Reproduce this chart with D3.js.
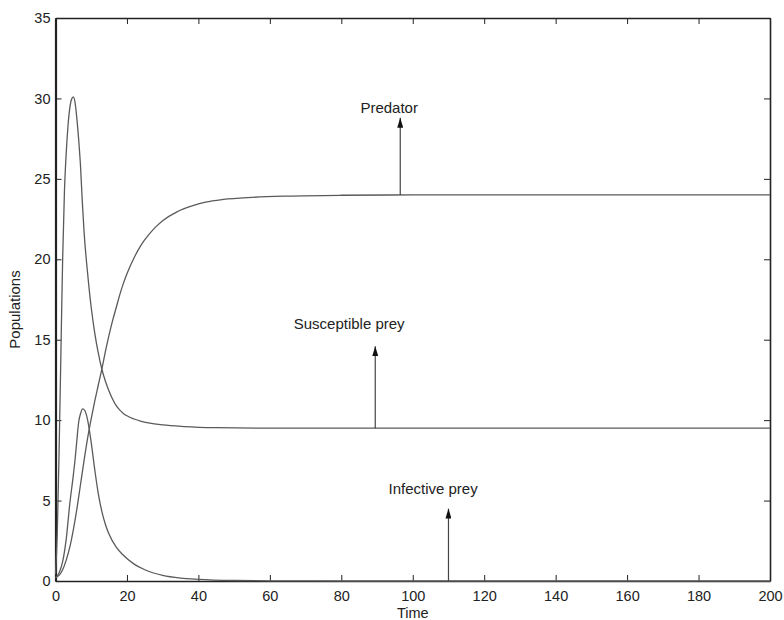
<!DOCTYPE html>
<html>
<head>
<meta charset="utf-8">
<script src="https://cdn.jsdelivr.net/npm/d3@7"></script>
<style>
  html, body { margin: 0; padding: 0; background: #fff; }
  svg { display: block; font-family: "Liberation Sans", Arial, Helvetica, sans-serif; }
</style>
</head>
<body>
<svg id="chart" width="784" height="620"></svg>
<script>
// ---- data ----
const susceptibleT = [0, 0.5, 1, 1.5, 2, 2.5, 3, 3.5, 4, 4.5, 5, 5.5, 6, 6.5, 7, 7.5, 8, 9, 10, 11, 12, 13, 14, 15, 16, 17, 18, 19, 20, 22, 24, 26, 30, 36, 45, 60, 80, 100, 130, 160, 200];
const susceptibleV = [0.4, 3, 8, 14, 20, 24.2, 26.6, 28.3, 29.4, 29.95, 30.1, 29.7, 28.7, 27.4, 25.8, 23.6, 21.7, 19.1, 17.0, 15.4, 14.15, 13.15, 12.4, 11.8, 11.3, 10.9, 10.62, 10.42, 10.27, 10.07, 9.93, 9.83, 9.7, 9.6, 9.53, 9.5, 9.5, 9.5, 9.5, 9.5, 9.5];

const predatorT = [0, 1, 2, 3, 4, 5, 6, 7, 8, 9, 10, 11, 12, 13, 14, 15, 16, 17, 18, 19, 20, 22, 24, 26, 28, 30, 34, 38, 42, 47, 55, 65, 80, 100, 150, 200];
const predatorV = [0.2, 0.35, 0.7, 1.3, 2.1, 3.2, 4.5, 6.0, 7.5, 8.9, 10.1, 11.2, 12.2, 13.2, 14.3, 15.3, 16.2, 17.0, 17.8, 18.5, 19.1, 20.1, 20.9, 21.5, 22.0, 22.4, 22.95, 23.3, 23.55, 23.72, 23.85, 23.93, 23.98, 24.0, 24.0, 24.0];

const infectiveT = [0, 1, 2, 3, 4, 5, 5.5, 6, 6.5, 7, 7.6, 8.2, 9, 10, 11, 12, 13, 14, 15, 17, 19, 22, 25, 30, 35, 40, 50, 60, 80, 120, 200];
const infectiveV = [0.2, 0.5, 1.2, 2.6, 4.8, 6.6, 7.6, 8.8, 9.9, 10.4, 10.7, 10.6, 10.0, 8.6, 6.9, 5.4, 4.3, 3.5, 2.9, 2.1, 1.6, 1.05, 0.7, 0.35, 0.18, 0.1, 0.03, 0.01, 0, 0, 0];

const xTicks = [0, 20, 40, 60, 80, 100, 120, 140, 160, 180, 200];
const yTicks = [0, 5, 10, 15, 20, 25, 30, 35];

const labelNames = ["Predator", "Susceptible prey", "Infective prey"];
const arrowT = [96.5, 89.5, 110];
const arrowFrom = [24.0, 9.5, 0];
const arrowTo = [28.8, 14.6, 4.5];
const labelT = [93.4, 82.2, 105.7];
const labelV = [29.1, 15.66, 5.4];

// ---- chart ----
const svg = d3.select("#chart");
const x = d3.scaleLinear().domain([0, 200]).range([55.5, 770]);
const y = d3.scaleLinear().domain([0, 35]).range([581, 18]);

const lineColor = "#5a5a5a";
const axisColor = "#222";
const textColor = "#222";

// frame axes
const gx = svg.append("g").attr("transform", `translate(0,${y(0)})`)
  .call(d3.axisBottom(x).tickValues(xTicks).tickSizeInner(-6).tickSizeOuter(0).tickPadding(10));
const gxt = svg.append("g").attr("transform", `translate(0,${y(35)})`)
  .call(d3.axisTop(x).tickValues(xTicks).tickSizeInner(-6).tickSizeOuter(0).tickFormat(""));
const gy = svg.append("g").attr("transform", `translate(${x(0)},0)`)
  .call(d3.axisLeft(y).tickValues(yTicks).tickSizeInner(-6).tickSizeOuter(0).tickPadding(5));
const gyr = svg.append("g").attr("transform", `translate(${x(200)},0)`)
  .call(d3.axisRight(y).tickValues(yTicks).tickSizeInner(-6).tickSizeOuter(0).tickFormat(""));

[gx, gxt, gy, gyr].forEach(g => {
  g.selectAll("path.domain").attr("stroke", axisColor).attr("stroke-width", 1.6);
  g.selectAll(".tick line").attr("stroke", axisColor).attr("stroke-width", 1);
  g.selectAll(".tick text").attr("fill", textColor).style("font-size", "14.5px")
    .style("font-family", '"Liberation Sans", Arial, sans-serif');
});
gy.select("path.domain").attr("stroke-width", 2.2);

// curves
const line = d3.line().x(d => x(d[0])).y(d => y(d[1])).curve(d3.curveMonotoneX);
const series = [
  d3.zip(susceptibleT, susceptibleV),
  d3.zip(predatorT, predatorV),
  d3.zip(infectiveT, infectiveV)
];
svg.append("g").selectAll("path").data(series).join("path")
  .attr("d", line).attr("fill", "none").attr("stroke", lineColor).attr("stroke-width", 1.3);

// arrows
svg.append("defs").append("marker")
  .attr("id", "arrowhead").attr("markerUnits", "userSpaceOnUse")
  .attr("viewBox", "0 0 10 6").attr("refX", 10).attr("refY", 3)
  .attr("markerWidth", 10).attr("markerHeight", 6).attr("orient", "auto")
  .append("path").attr("d", "M0,0 L10,3 L0,6 Z").attr("fill", "#111");

svg.append("g").selectAll("line").data(arrowT).join("line")
  .attr("x1", d => x(d)).attr("x2", d => x(d))
  .attr("y1", (d, i) => y(arrowFrom[i])).attr("y2", (d, i) => y(arrowTo[i]))
  .attr("stroke", "#444").attr("stroke-width", 1.2)
  .attr("marker-end", "url(#arrowhead)");

svg.append("g").selectAll("text").data(labelNames).join("text")
  .attr("x", (d, i) => x(labelT[i])).attr("y", (d, i) => y(labelV[i]))
  .attr("text-anchor", "middle").attr("fill", textColor)
  .style("font-size", "15px").text(d => d);

// axis titles
svg.append("text").attr("x", x(100)).attr("y", 618).attr("text-anchor", "middle")
  .attr("fill", textColor).style("font-size", "14.5px").text("Time");
svg.append("text").attr("transform", `translate(20,${(y(0) + y(35)) / 2 + 10}) rotate(-90)`)
  .attr("text-anchor", "middle").attr("fill", textColor).style("font-size", "15px").text("Populations");
</script>
</body>
</html>
